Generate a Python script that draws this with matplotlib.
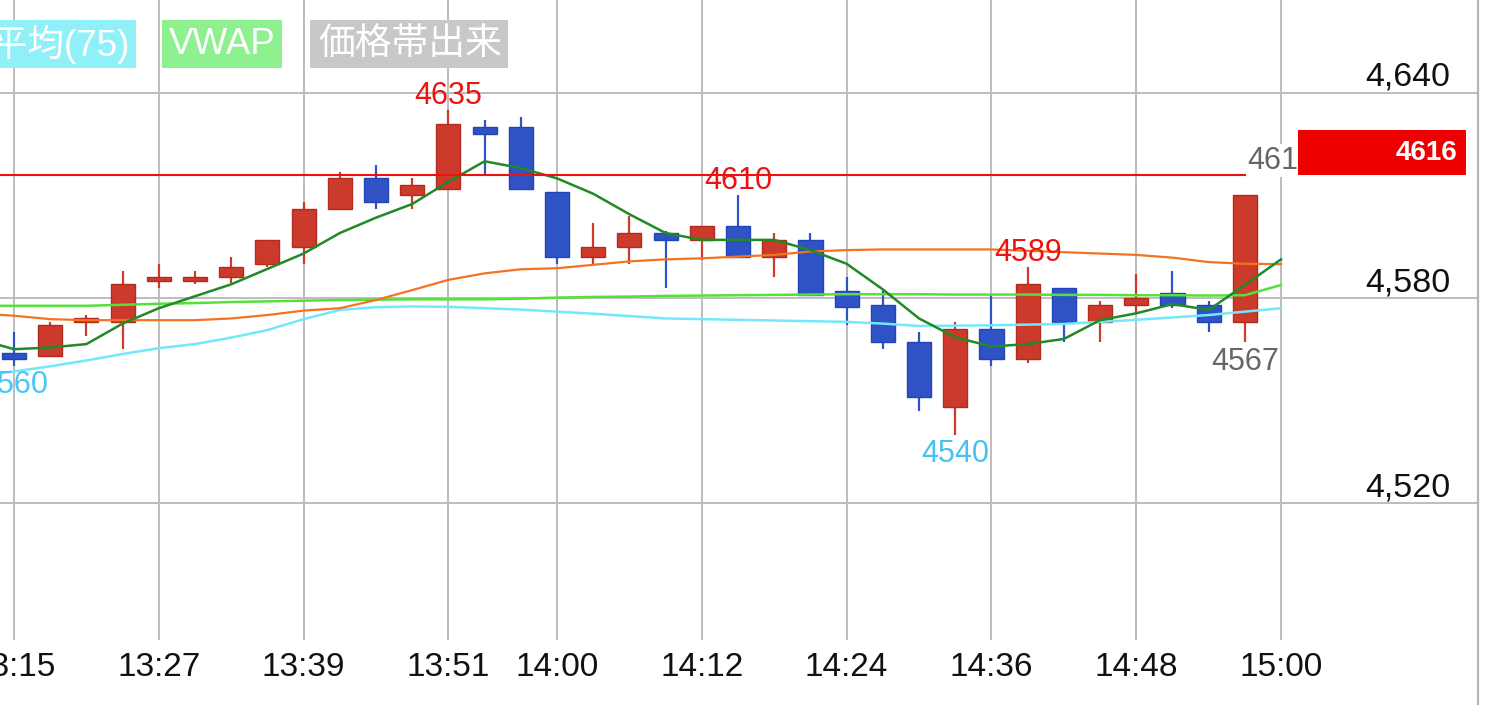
"""
Intraday 3-minute candlestick chart (13:15 - 15:00) with moving averages,
VWAP and the last-price marker.
"""
import matplotlib.pyplot as plt
from matplotlib.patches import Rectangle
from matplotlib.transforms import blended_transform_factory

plt.rcParams['font.family'] = ['Liberation Sans', 'Noto Sans CJK JP', 'DejaVu Sans']

# ---------------------------------------------------------------------------
# data
# ---------------------------------------------------------------------------
candle_times = ["13:15", "13:18", "13:21", "13:24", "13:27", "13:30", "13:33",
                "13:36", "13:39", "13:42", "13:45", "13:48", "13:51", "13:54",
                "13:57", "14:00", "14:03", "14:06", "14:09", "14:12", "14:15",
                "14:18", "14:21", "14:24", "14:27", "14:30", "14:33", "14:36",
                "14:39", "14:42", "14:45", "14:48", "14:51", "14:54", "14:57"]
opens = [4564, 4563, 4573, 4573, 4585, 4585, 4586, 4590, 4595, 4606, 4615, 4610,
         4612, 4630, 4630, 4611, 4592, 4595, 4599, 4597, 4601, 4592, 4597, 4582,
         4578, 4567, 4548, 4571, 4562, 4583, 4573, 4578, 4581.5, 4578, 4573]
highs = [4570, 4573, 4575, 4588, 4590, 4588, 4592, 4597, 4608, 4617, 4619, 4615,
         4635, 4632, 4633, 4611, 4602, 4604, 4599.5, 4601, 4610, 4599, 4599, 4586,
         4582, 4570, 4573, 4581, 4589, 4583, 4579, 4587, 4588, 4579, 4610]
lows = [4560, 4563, 4569, 4565, 4583, 4584, 4584.5, 4589, 4590, 4606, 4606, 4606,
        4612, 4616, 4612, 4590, 4590, 4590, 4583, 4591, 4592, 4586, 4581, 4572,
        4565, 4547, 4540, 4560, 4561, 4567, 4567, 4575.5, 4577, 4570, 4567]
closes = [4562, 4572, 4574, 4584, 4586, 4586, 4589, 4597, 4606, 4615, 4608, 4613,
          4631, 4628, 4612, 4592, 4595, 4599, 4597, 4601, 4592, 4597, 4581, 4577.5,
          4567, 4551, 4571, 4562, 4584, 4573, 4578, 4580, 4578, 4573, 4610]

line_times = ["13:12"] + candle_times + ["15:00"]
ma_short = [4568, 4565, 4565.5, 4566.5, 4572.5, 4577, 4580.5, 4584, 4588.5, 4593,
            4599, 4603.5, 4607.5, 4614, 4620, 4618, 4615, 4610.5, 4604.5, 4599,
            4597, 4597, 4597, 4594, 4590, 4582.5, 4574, 4568.5, 4565.8, 4566.5,
            4568, 4573.5, 4575.5, 4578.2, 4576.5, 4583.8, 4591.3]
ma_mid = [4575.5, 4574.8, 4573.8, 4573.5, 4573.5, 4573.5, 4573.5, 4574, 4575,
          4576.3, 4577, 4579.4, 4582.3, 4585.3, 4587.2, 4588.4, 4588.7, 4589.7,
          4590.7, 4591.3, 4591.6, 4592.1, 4592.6, 4593.6, 4594, 4594.2, 4594.2,
          4594.2, 4594.2, 4593.8, 4593.4, 4593, 4592.6, 4591.8, 4590.5, 4590, 4589.9]
ma_long = [4557, 4558.5, 4560, 4561.7, 4563.6, 4565.3, 4566.5, 4568.4, 4570.6,
           4573.8, 4576.5, 4577.3, 4577.5, 4577.4, 4577, 4576.6, 4576, 4575.4,
           4574.7, 4574, 4573.8, 4573.6, 4573.4, 4573.2, 4573, 4572.5, 4571.8,
           4571.9, 4572, 4572.2, 4572.4, 4573, 4573.6, 4574.3, 4575, 4576, 4577]
vwap = [4577.7, 4577.7, 4577.7, 4577.7, 4578, 4578.3, 4578.5, 4578.8, 4579,
        4579.2, 4579.4, 4579.5, 4579.6, 4579.6, 4579.6, 4579.8, 4580.1, 4580.3,
        4580.4, 4580.6, 4580.7, 4580.8, 4580.9, 4581, 4581.1, 4581.1, 4581.1,
        4581, 4581, 4581, 4580.9, 4580.9, 4580.8, 4580.8, 4580.7, 4580.8, 4583.8]

last_price = 4616
price_ticks = [4520, 4580, 4640]
time_ticks = ["13:15", "13:27", "13:39", "13:51", "14:00", "14:12", "14:24",
              "14:36", "14:48", "15:00"]

# high / low markers: time, price, side, colour
mark_times = ["13:51", "14:15", "14:39", "14:33", "13:15", "14:57", "15:00"]
mark_prices = [4635, 4610, 4589, 4540, 4560, 4567, 4616]
mark_sides = ["above", "above", "above", "below", "below", "below", "above"]
mark_colors = ["#ee1111", "#ee1111", "#ee1111", "#45c2f2", "#45c8f4", "#666666", "#666666"]

legend_labels = ["移動平均(75)", "VWAP", "価格帯出来"]
legend_colors = ["#8ff0f8", "#8ef08e", "#c8c8c8"]


def to_min(s):
    h, m = s.split(":")
    return (int(h) - 13) * 60 + int(m)


ct = [to_min(s) for s in candle_times]
lt = [to_min(s) for s in line_times]

UP, UP_EDGE = "#cc3a2b", "#b32b1f"
DOWN, DOWN_EDGE = "#2f52c4", "#2343bb"

fig = plt.figure(figsize=(15, 7.05), dpi=100)
ax = fig.add_axes([0, 65 / 705, 1478 / 1500, 640 / 705])
ax.set_xlim(13.84, 136.32)
ax.set_ylim(4479.9, 4667.2)

# candles
for t, o, h, l, c in zip(ct, opens, highs, lows, closes):
    up = c >= o
    ax.vlines(t, l, h, color=UP if up else DOWN, lw=1.6, zorder=2)
    ax.bar(t, abs(c - o), bottom=min(o, c), width=2.0,
           color=UP if up else DOWN, edgecolor=UP_EDGE if up else DOWN_EDGE,
           linewidth=1.0, zorder=3)

# lines
ax.plot(lt, ma_long, color="#74e8fb", lw=1.8, zorder=4)
ax.plot(lt, vwap, color="#55e03a", lw=1.8, zorder=4)
ax.plot(lt, ma_mid, color="#f57320", lw=1.6, zorder=4)
ax.plot(lt, ma_short, color="#1f8a26", lw=1.8, zorder=5)

# last price line + box
box_tr = blended_transform_factory(ax.transAxes, ax.transData)
ax.plot([0, 1298 / 1478], [last_price, last_price], color="#ee1111", lw=1.5,
        transform=box_tr, zorder=5)

# high/low labels
for t, p, side, col in zip(mark_times, mark_prices, mark_sides, mark_colors):
    dy = -0.5 if side == "above" else -3
    ax.annotate(str(p), (to_min(t), p), xytext=(0, dy), textcoords="offset points",
                ha="center", va="bottom" if side == "above" else "top",
                fontsize=22, color=col, zorder=6,
                bbox=dict(boxstyle="square,pad=0.05", fc="white", ec="none")
                if t == "15:00" else None)

ax.add_patch(Rectangle((1298 / 1478, last_price), (1466 - 1298) / 1478, 13.3,
                       transform=box_tr, facecolor="#ee0000", edgecolor="none",
                       zorder=7, clip_on=False))
ax.text(1457 / 1478, last_price + 6.4, str(last_price), transform=box_tr,
        ha="right", va="center", fontsize=20, fontweight="bold", color="white",
        zorder=8)

# grid / axes
ax.set_yticks(price_ticks)
ax.set_yticklabels([])
ax.set_xticks([to_min(s) for s in time_ticks], time_ticks)
ax.tick_params(axis="both", length=0)
ax.tick_params(axis="x", pad=9, labelsize=24, labelcolor="#111111")
ax.grid(True, color="#bdbdbd", lw=1.4, zorder=0)
ax.set_axisbelow(True)
for s in ax.spines.values():
    s.set_visible(False)

for v in price_ticks:
    ax.annotate(f"{v:,}", (1450 / 1478, v), xycoords=box_tr, xytext=(0, 5),
                textcoords="offset points", ha="right", va="baseline",
                fontsize=24.5, color="#111111")

# right border
fig.add_artist(plt.Line2D([1478 / 1500, 1478 / 1500], [0, 1], color="#b5b5b5", lw=1.6))

# legend chips at the top
chip_x = [(-60, 136), (162, 282), (310, 508)]
for (x0, x1), lab, col in zip(chip_x, legend_labels, legend_colors):
    fig.add_artist(Rectangle((x0 / 1500, 1 - 68 / 705), (x1 - x0) / 1500, 48 / 705,
                             transform=fig.transFigure, facecolor=col, edgecolor="none"))
    fig.text((x1 - 6) / 1500, 1 - 44 / 705, lab, ha="right", va="center",
             fontsize=26.5, color="white")

fig.savefig("out.png", dpi=100)
